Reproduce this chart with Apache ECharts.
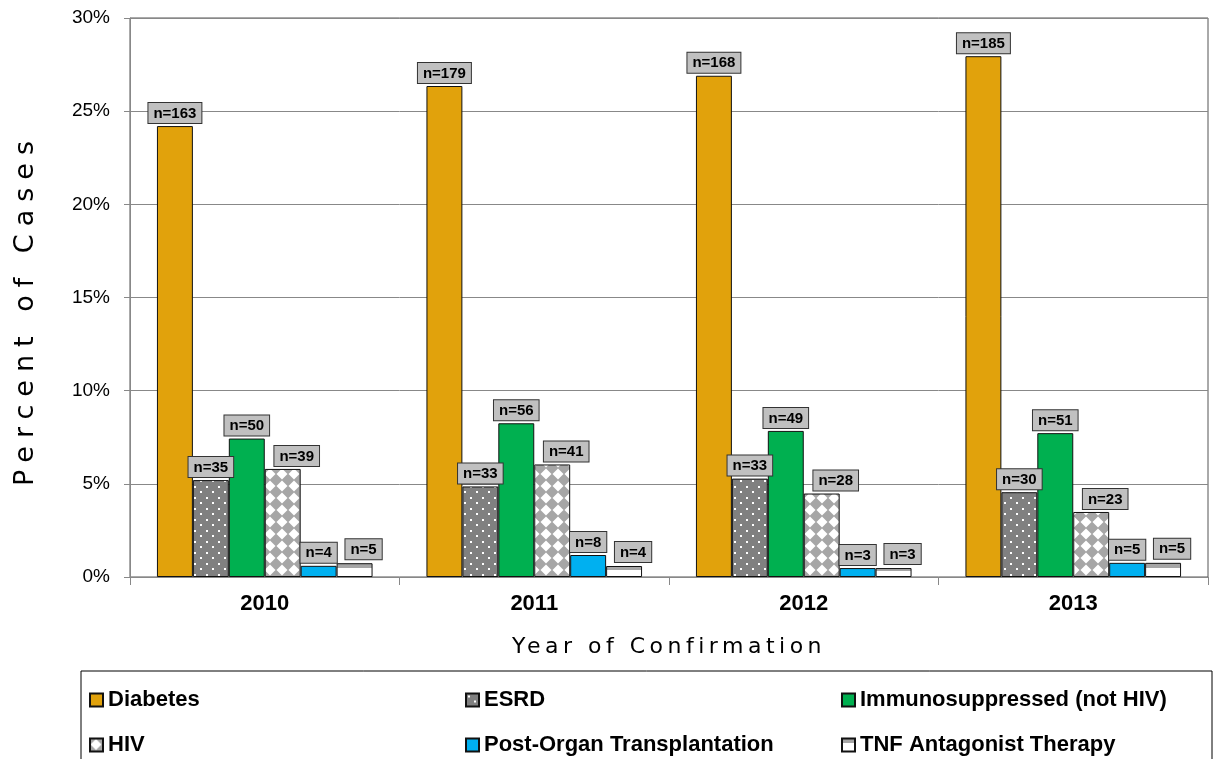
<!DOCTYPE html>
<html>
<head>
    <meta charset="utf-8">
    <title>Percent of Cases by Year of Confirmation</title>
    <script src="https://cdn.jsdelivr.net/npm/echarts@6/dist/echarts.min.js"></script>
</head>
<body style="margin:0;background:#fff">
<div id="main" style="width:1214px;height:759px;"></div>
<script type="text/javascript">
    // data (percent of cases, and the n labels)
    var years = ['2010', '2011', '2012', '2013'];
    var diabetes = [24.2, 26.35, 26.9, 27.95];
    var esrd = [5.2, 4.86, 5.28, 4.55];
    var immuno = [7.43, 8.25, 7.84, 7.72];
    var hiv = [5.8, 6.04, 4.48, 3.49];
    var postOrgan = [0.6, 1.18, 0.48, 0.76];
    var tnf = [0.74, 0.59, 0.48, 0.76];

    var nDiabetes = [163, 179, 168, 185];
    var nEsrd = [35, 33, 33, 30];
    var nImmuno = [50, 56, 49, 51];
    var nHiv = [39, 41, 28, 23];
    var nPostOrgan = [4, 8, 3, 5];
    var nTnf = [5, 4, 3, 5];

    var yTicks = [0, 5, 10, 15, 20, 25, 30];

    // spaced out axis titles (only the DejaVu titles get letter spacing)
    var origFillText = CanvasRenderingContext2D.prototype.fillText;
    CanvasRenderingContext2D.prototype.fillText = function (t, x, y, w) {
        if (this.font.indexOf('DejaVu') >= 0) {
            this.letterSpacing = this.font.indexOf('27px') >= 0 ? '8px' : '4.5px';
        }
        if (w === undefined) origFillText.call(this, t, x, y);
        else origFillText.call(this, t, x, y, w);
        this.letterSpacing = '0px';
    };

    // fill patterns
    function dotsPattern() {
        var c = document.createElement('canvas');
        c.width = 12; c.height = 11;
        var ctx = c.getContext('2d');
        ctx.fillStyle = '#808080';
        ctx.fillRect(0, 0, 12, 11);
        ctx.fillStyle = '#ffffff';
        ctx.fillRect(2, 2, 2, 2);
        ctx.fillRect(8, 7, 2, 2);
        return c;
    }
    function diamondPattern() {
        var c = document.createElement('canvas');
        c.width = 12; c.height = 12;
        var ctx = c.getContext('2d');
        ctx.fillStyle = '#a6a6a6';
        ctx.fillRect(0, 0, 12, 12);
        ctx.fillStyle = '#ffffff';
        ctx.beginPath();
        ctx.moveTo(6, 0.5);
        ctx.lineTo(11.5, 6);
        ctx.lineTo(6, 11.5);
        ctx.lineTo(0.5, 6);
        ctx.closePath();
        ctx.fill();
        return c;
    }

    var myChart = echarts.init(document.getElementById('main'));

    function nLabel(nArr, offset) {
        return {
            show: true,
            position: 'top',
            distance: 3,
            offset: offset || [0, 0],
            formatter: function (p) { return 'n=' + nArr[p.dataIndex]; },
            fontFamily: 'Arial',
            fontWeight: 'bold',
            fontSize: 15,
            color: '#000',
            backgroundColor: '#c0c0c0',
            borderColor: '#333',
            borderWidth: 1,
            padding: [3, 5, 2, 5]
        };
    }

    function barSeries(name, values, color, nArr, offset) {
        return {
            name: name,
            type: 'bar',
            data: values,
            barGap: '0%',
            barCategoryGap: '20%',
            itemStyle: {color: color, borderColor: '#111', borderWidth: 1},
            label: nLabel(nArr, offset),
            emphasis: {disabled: true}
        };
    }

    // one legend per cell so the three columns line up like the original
    function legendCell(left, top, name) {
        return {
            left: left,
            top: top,
            itemWidth: 13,
            itemHeight: 13,
            icon: 'rect',
            selectedMode: false,
            textStyle: {fontFamily: 'Arial', fontWeight: 'bold', fontSize: 22, color: '#000', lineHeight: 20},
            data: [name]
        };
    }

    myChart.setOption({
        backgroundColor: '#fff',
        animation: false,
        grid: {
            left: 130, right: 6, top: 18, bottom: 182,
            show: true, borderColor: '#555', borderWidth: 1
        },
        legend: [
            legendCell(84, 684, 'Diabetes'),
            legendCell(460, 684, 'ESRD'),
            legendCell(836, 684, 'Immunosuppressed (not HIV)'),
            legendCell(84, 729, 'HIV'),
            legendCell(460, 729, 'Post-Organ Transplantation'),
            legendCell(836, 729, 'TNF Antagonist Therapy')
        ],
        graphic: [{
            type: 'rect',
            shape: {x: 81, y: 671, width: 1131, height: 100},
            style: {fill: 'none', stroke: '#000', lineWidth: 1}
        }],
        xAxis: {
            type: 'category',
            data: years,
            name: 'Year of Confirmation',
            nameLocation: 'middle',
            nameGap: 59,
            nameTextStyle: {fontFamily: 'DejaVu Sans', fontSize: 22, color: '#000'},
            axisLine: {lineStyle: {color: '#888'}},
            axisTick: {show: true, length: 8, lineStyle: {color: '#888'}},
            axisLabel: {margin: 16, fontFamily: 'Arial', fontWeight: 'bold', fontSize: 22, color: '#000'}
        },
        yAxis: {
            type: 'value',
            min: yTicks[0],
            max: yTicks[yTicks.length - 1],
            interval: 5,
            name: 'Percent of Cases',
            nameLocation: 'middle',
            nameGap: 91,
            nameTextStyle: {fontFamily: 'DejaVu Sans', fontSize: 27, color: '#000', padding: [0, 24, 0, 0]},
            axisLine: {show: true, lineStyle: {color: '#888'}},
            axisTick: {show: true, length: 6, lineStyle: {color: '#888'}},
            axisLabel: {margin: 20, fontFamily: 'Arial', fontSize: 19, color: '#000', formatter: '{value}%'},
            splitLine: {lineStyle: {color: '#888'}}
        },
        series: [
            barSeries('Diabetes', diabetes, '#e1a20c', nDiabetes),
            barSeries('ESRD', esrd, {image: dotsPattern(), repeat: 'repeat'}, nEsrd),
            barSeries('Immunosuppressed (not HIV)', immuno, '#00b050', nImmuno),
            barSeries('HIV', hiv, {image: diamondPattern(), repeat: 'repeat'}, nHiv, [14, 0]),
            barSeries('Post-Organ Transplantation', postOrgan, '#00b0f0', nPostOrgan),
            barSeries('TNF Antagonist Therapy', tnf, {
                type: 'linear', x: 0, y: 0, x2: 0, y2: 1,
                colorStops: [
                    {offset: 0, color: '#a6a6a6'}, {offset: 0.35, color: '#a6a6a6'},
                    {offset: 0.35, color: '#ffffff'}, {offset: 1, color: '#ffffff'}
                ]
            }, nTnf, [9, -1])
        ]
    });
</script>
</body>
</html>
